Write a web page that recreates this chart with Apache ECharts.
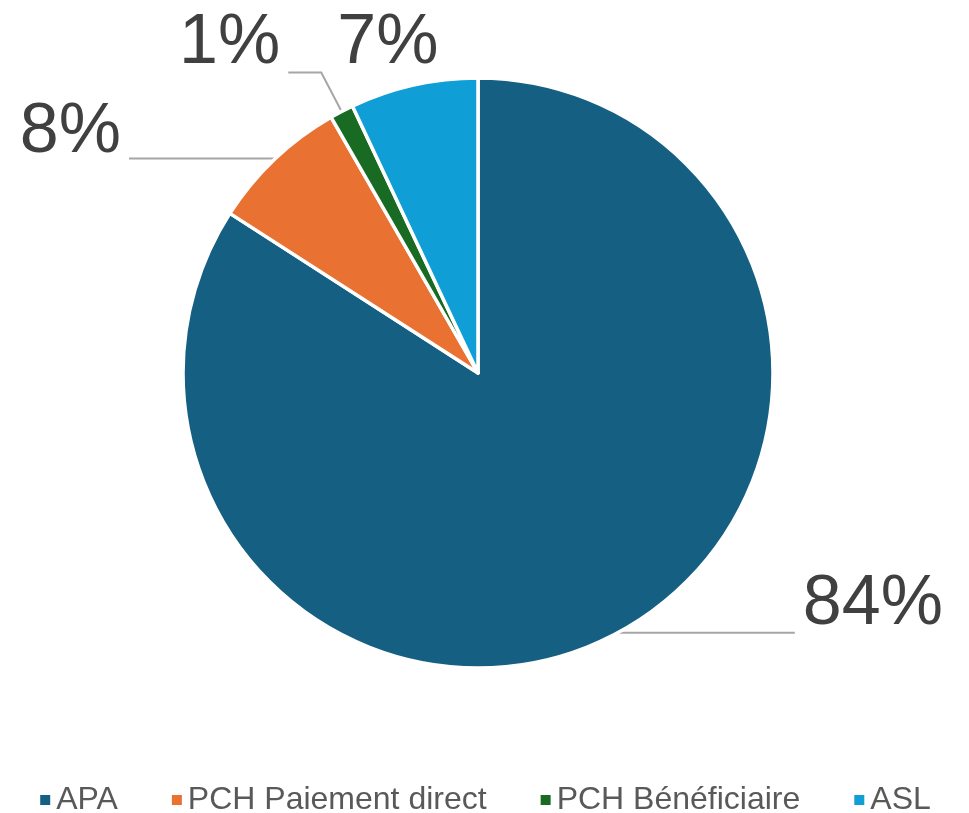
<!DOCTYPE html>
<html>
<head>
<meta charset="utf-8">
<script src="https://cdn.jsdelivr.net/npm/echarts@6/dist/echarts.min.js"></script>
<style>
  html, body { margin: 0; padding: 0; background: #fff; }
  #main { width: 969px; height: 813px; }
</style>
</head>
<body>
<div id="main"></div>
<script>
// données (parts en %)
var categories = ['APA', 'PCH Paiement direct', 'PCH Bénéficiaire', 'ASL'];
var values = [84.1, 7.6, 1.3, 7.0];
var colors = ['#156082', '#E97132', '#196B24', '#0F9ED5'];

// réglages des lignes de rappel, par part
var lineLen = [1, 1, 44, 40];
var lineLen2 = [175, 145, 33, 1];
var lineShow = [true, true, true, false];
var labelShift = [
    { dy: -28 }
    ,{ dy: -26 }
    ,{ dy: -29 }
    ,{ dx: -8, dy: -2, align: 'center' }
];

var chart = echarts.init(document.getElementById('main'));

var data = categories.map(function(name, i){
    return {
        name: name
        ,value: values[i]
        ,itemStyle: { color: colors[i] }
        ,labelLine: { show: lineShow[i], length: lineLen[i], length2: lineLen2[i] }
    };
});

chart.setOption({
    animation: false
    ,legend: {
        top: 779
        ,left: 'center'
        ,icon: 'rect'
        ,itemWidth: 12
        ,itemHeight: 12
        ,itemGap: 52
        ,textStyle: { color: '#595959', fontSize: 32, fontFamily: 'Liberation Sans' }
        ,data: categories
    }
    ,series: [{
        type: 'pie'
        ,center: [478, 373]
        ,radius: 295
        ,startAngle: 90
        ,clockwise: true
        ,avoidLabelOverlap: false
        ,percentPrecision: 0
        ,itemStyle: { borderColor: '#fff', borderWidth: 3.5 }
        ,label: {
            show: true
            ,position: 'outside'
            ,formatter: '{d}%'
            ,color: '#404040'
            ,fontSize: 70
            ,fontFamily: 'Liberation Sans'
            ,distanceToLabelLine: 8
        }
        ,labelLine: { lineStyle: { color: '#a6a6a6', width: 2 } }
        ,labelLayout: function(params){
            return labelShift[params.dataIndex];
        }
        ,emphasis: { disabled: true }
        ,data: data
    }]
});
</script>
</body>
</html>
